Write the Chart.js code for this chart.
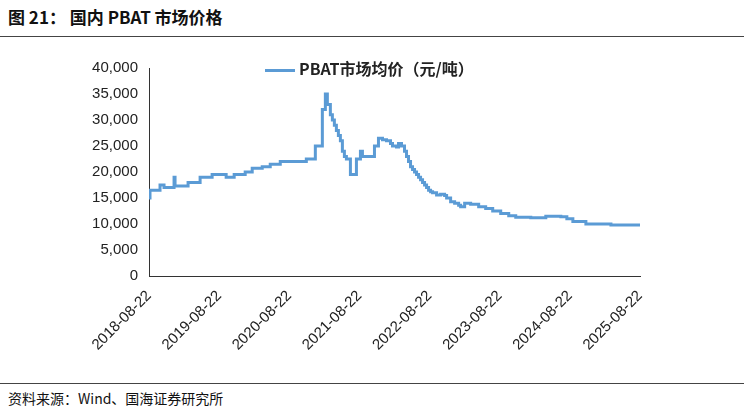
<!DOCTYPE html><html><head><meta charset="utf-8">
<script src="https://cdn.jsdelivr.net/npm/chart.js@4"></script>
<style>body{margin:0;background:#fff;font-family:"Noto Sans CJK SC",sans-serif;}
#t{position:absolute;left:8px;top:4px;font-size:17px;font-weight:bold;color:#111}
#l1{position:absolute;left:0;top:36px;width:744px;border-top:1px solid #444}
#l2{position:absolute;left:0;top:383px;width:744px;border-top:1px solid #444}
#s{position:absolute;left:8px;top:388px;font-size:14px;color:#111}
#lg{position:absolute;left:265px;top:56px;font-size:16px;font-weight:bold;color:#222}
#lg span{display:inline-block;width:30px;height:3px;background:#5b9bd5;vertical-align:middle;margin-right:4px}
#c{position:absolute;left:0;top:45px;width:744px;height:335px}</style></head><body>
<div id="t">图 21：  国内 PBAT 市场价格</div><div id="l1"></div><div id="l2"></div>
<div id="s">资料来源：Wind、国海证券研究所</div>
<div id="c"><canvas id="cv"></canvas></div>
<div id="lg"><span></span>PBAT市场均价（元/吨）</div>
<script>
const tickLabels=["2018-08-22","2019-08-22","2020-08-22","2021-08-22","2022-08-22","2023-08-22","2024-08-22","2025-08-22"];
const px=[149,150,160,164,174,175,188,200,212,226,234,245,252,262,270,280,306,315,322,325,327,330,332,334,336,338,340,342,344,346,350,356,360,362,374,378,382,386,390,392,396,398,401,404,406,408,410,412,414,416,418,420,422,424,426,428,430,432,436,440,444,446,450,454,458,460,464,470,478,485,492,500,508,515,530,545,560,566,572,585,600,610,639];
const prices=[15000,16500,17500,17000,19000,17300,18000,19000,19500,19000,19500,20000,20700,21000,21500,22000,22500,25000,32000,35000,33000,31000,30000,29000,28000,27000,26000,24000,23000,22500,19500,22500,24000,23000,25000,26500,26200,26000,25500,25000,24800,25500,25000,24000,23000,22000,21000,20500,20000,19500,19000,18500,18000,17500,17000,16500,16200,16000,15600,15700,15500,15000,14300,14000,13600,13300,14000,13800,13300,13000,12500,12000,11600,11300,11200,11500,11400,11000,10500,10000,10000,9800,9800];
const years=px.map(p=>(p-149)/70);
new Chart(document.getElementById('cv'),{type:'line',
data:{datasets:[{data:years.map((x,i)=>({x,y:prices[i]})),borderColor:'#5b9bd5',borderWidth:3,pointRadius:0,stepped:true,fill:false}]},
options:{animation:false,responsive:true,maintainAspectRatio:false,layout:{padding:{top:23,right:104,left:0}},
plugins:{legend:{display:false},tooltip:{enabled:false}},
scales:{x:{type:'linear',min:0,max:7,afterFit:s=>{s.height=104},grid:{display:false,drawTicks:true},border:{color:'#333'},
ticks:{stepSize:1,maxRotation:45,minRotation:45,color:'#222',font:{size:15,family:'Liberation Sans'},callback:v=>tickLabels[v]}},
y:{min:0,max:40000,afterFit:s=>{s.width=149},grid:{display:false},border:{color:'#333'},
ticks:{stepSize:5000,color:'#222',font:{size:15,family:'Liberation Sans'},callback:v=>v.toLocaleString('en-US')}}}}});
</script></body></html>
